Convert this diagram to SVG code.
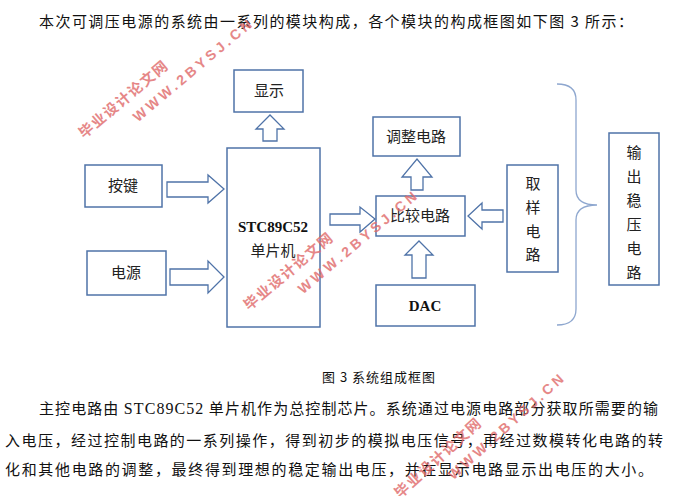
<svg xmlns="http://www.w3.org/2000/svg" width="673" height="496" viewBox="0 0 673 496">
<style>
.box{fill:#fff;stroke:#4f73a8;stroke-width:1.5}
.arr{fill:#fff;stroke:#4f73a8;stroke-width:1.3;stroke-linejoin:miter}
.brace{fill:none;stroke:#8ea7cf;stroke-width:1.3}
.lbl{font-family:"Liberation Serif","Noto Sans CJK SC",serif;font-size:15px;fill:#222;text-anchor:middle}
.lat{font-family:"Liberation Serif",serif;font-size:15px;fill:#111;text-anchor:middle;font-weight:bold}
.para{font-family:"Noto Sans CJK SC","Noto Sans",sans-serif;font-size:15px;fill:#111}
.ser{font-family:"Liberation Serif",serif;font-size:16px}
.cap{font-family:"Noto Sans CJK SC",sans-serif;font-size:13px;fill:#111}
.wmc{font-family:"Noto Sans CJK SC",sans-serif;font-size:14.5px;font-weight:bold;fill:#e06a6a;letter-spacing:1.5px}
.wme{font-family:"Liberation Sans",sans-serif;font-size:14px;font-weight:bold;fill:#e06a6a;letter-spacing:3.5px}
</style>
<defs>
<g id="wm" opacity="0.8">
<text class="wmc" x="0" y="0">毕业设计论文网</text>
<text class="wme" x="52" y="22">WWW.2BYSJ.CN</text>
</g>
</defs>

<text class="para" x="39" y="27" textLength="594" lengthAdjust="spacing">本次可调压电源的系统由一系列的模块构成，各个模块的构成框图如下图 3 所示：</text>

<g id="connectors">
<polygon class="arr" points="167,182 208,182 208,175 224,189 208,203 208,197 167,197"/>
<polygon class="arr" points="170,269 208,269 208,261 224,277 208,293 208,285 170,285"/>
<polygon class="arr" points="263,141 263,129 256,129 270,115 284,129 277,129 277,141"/>
<polygon class="arr" points="330,214 360,214 360,207 375,219 360,232 360,225 330,225"/>
<polygon class="arr" points="411,190 411,177 402,177 417,159 432,177 423,177 423,190"/>
<polygon class="arr" points="503,210 482,210 482,203 468,216 482,229 482,222 503,222"/>
<polygon class="arr" points="412,278 412,255 405,255 419,241 433,255 426,255 426,278"/>
<path class="brace" d="M557,84 Q576,84 576,100 L576,190 Q576,205 597,205 Q576,205 576,220 L576,309 Q576,325 557,325"/>
</g>

<g id="display"><rect class="box" x="234" y="70" width="69" height="42"/><text class="lbl" x="269" y="96">显示</text></g>
<g id="mcu"><rect class="box" x="227" y="148" width="93" height="179"/><text class="lat" x="273" y="232">STC89C52</text><text class="lbl" x="273" y="256">单片机</text></g>
<g id="keys"><rect class="box" x="85" y="165" width="77" height="42"/><text class="lbl" x="123" y="191">按键</text></g>
<g id="power"><rect class="box" x="87" y="251" width="79" height="44"/><text class="lbl" x="126" y="278">电源</text></g>
<g id="adjust"><rect class="box" x="373" y="117" width="87" height="39"/><text class="lbl" x="416" y="142">调整电路</text></g>
<g id="compare"><rect class="box" x="376" y="196" width="89" height="40"/><text class="lbl" x="420" y="221">比较电路</text></g>
<g id="dac"><rect class="box" x="376" y="285" width="99" height="41"/><text class="lat" x="425" y="311">DAC</text></g>
<g id="sample"><rect class="box" x="507" y="165" width="51" height="107"/>
<text class="lbl" x="533" y="189">取</text><text class="lbl" x="533" y="213">样</text><text class="lbl" x="533" y="237">电</text><text class="lbl" x="533" y="260">路</text></g>
<g id="output"><rect class="box" x="609" y="133" width="50" height="152"/>
<text class="lbl" x="634" y="158">输</text><text class="lbl" x="634" y="182">出</text><text class="lbl" x="634" y="206">稳</text><text class="lbl" x="634" y="230">压</text><text class="lbl" x="634" y="254">电</text><text class="lbl" x="634" y="278">路</text></g>

<text class="cap" x="322" y="382" textLength="113" lengthAdjust="spacing">图 3 系统组成框图</text>

<text class="para" x="39" y="414" textLength="619" lengthAdjust="spacing">主控电路由 <tspan class="ser">STC89C52</tspan> 单片机作为总控制芯片。系统通过电源电路部分获取所需要的输</text>
<text class="para" x="5" y="446" textLength="658" lengthAdjust="spacing">入电压，经过控制电路的一系列操作，得到初步的模拟电压信号，再经过数模转化电路的转</text>
<text class="para" x="5" y="475" textLength="648" lengthAdjust="spacing">化和其他电路的调整，最终得到理想的稳定输出电压，并在显示电路显示出电压的大小。</text>

<use href="#wm" transform="translate(84,139) rotate(-40)"/>
<use href="#wm" transform="translate(249,311) rotate(-40)"/>
<use href="#wm" transform="translate(400,499) rotate(-42)"/>
</svg>
